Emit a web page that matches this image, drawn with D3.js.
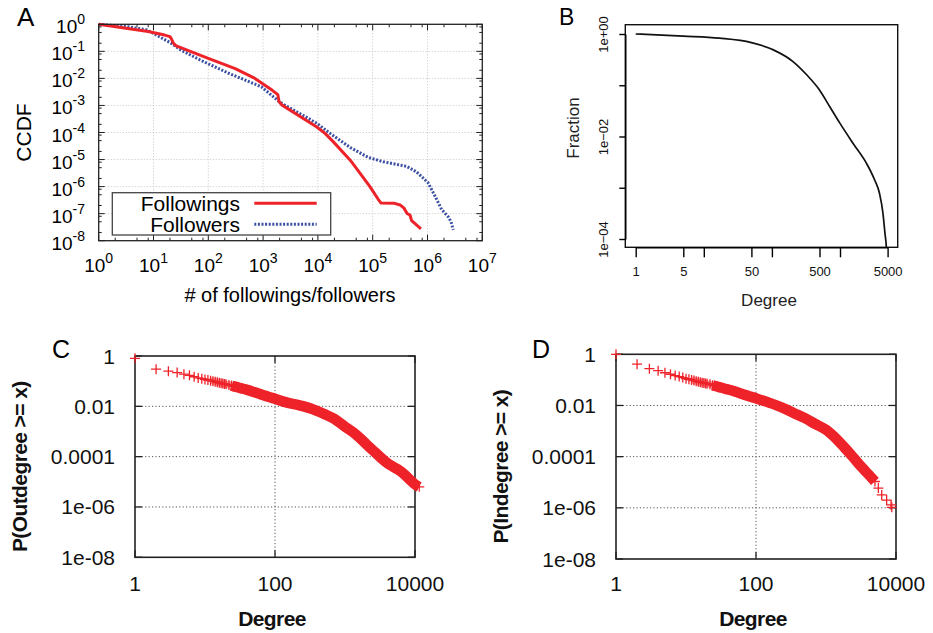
<!DOCTYPE html>
<html><head><meta charset="utf-8">
<script src="https://cdn.jsdelivr.net/npm/d3@7"></script>
<style>body{margin:0;background:#fff}svg{display:block}</style>
</head><body>
<svg id="c" width="933" height="633"></svg>
<script>
// ---------- Panel A data ----------
const followingsX = [1, 8, 16, 20, 21.4, 23, 26, 100, 310, 710, 1450, 1860, 1950, 2190, 9550, 13500, 19000, 38900, 59000, 89000, 126000, 141000, 251000, 316000, 372000, 427000, 479000, 513000, 759000];
const followingsY = [1, 0.54, 0.40, 0.35, 0.28, 0.20, 0.16, 0.055, 0.023, 0.010, 0.0037, 0.0025, 0.0014, 0.00105, 1.6e-4, 9.3e-5, 4.6e-5, 9.5e-6, 3.1e-6, 1.0e-6, 3.4e-7, 2.5e-7, 2.4e-7, 2.1e-7, 1.6e-7, 1.0e-7, 8.9e-8, 5.5e-8, 2.75e-8];
const followersX = [1, 3.5, 7.6, 21, 32, 71, 234, 930, 2040, 9550, 16600, 38900, 83000, 155000, 417000, 631000, 1020000, 1410000, 1820000, 2400000, 2690000, 2950000];
const followersY = [1, 0.81, 0.62, 0.20, 0.11, 0.048, 0.0155, 0.0049, 0.0013, 2.2e-4, 9.3e-5, 2.8e-5, 1.2e-5, 8.3e-6, 5.6e-6, 3.5e-6, 1.4e-6, 4.0e-7, 1.4e-7, 7.6e-8, 5.0e-8, 2.5e-8];
const seriesA = ["Followings", "Followers"];
const xTickExpA = [0, 1, 2, 3, 4, 5, 6, 7];
const yTickExpA = [0, -1, -2, -3, -4, -5, -6, -7, -8];

// ---------- Panel B data ----------
const degreeB = [1, 5, 17, 50, 105, 204, 324, 500, 708, 1000, 1550, 2450, 3240, 3800, 4270, 4570, 4790, 4840];
const fractionB = [1, 0.91, 0.83, 0.68, 0.49, 0.29, 0.16, 0.081, 0.038, 0.018, 0.0074, 0.0030, 0.0014, 7.8e-4, 3.2e-4, 1.3e-4, 6.9e-5, 3.2e-5];
const xTicksB = [1, 5, 10, 50, 100, 500, 1000, 5000];
const xTickLabelsB = ["1", "5", "", "50", "", "500", "", "5000"];
const yTicksB = [1, 0.1, 0.01, 0.001, 0.0001];
const yTickLabelsB = ["1e+00", "", "1e\u221202", "", "1e\u221204"];

// ---------- Panel C data ----------
const outDeg = [1,2,3,4,5,6,7,8,9,10,11,12,13,14,15,16,17,18,19,20,22,24,26,28,30,35,40,50,65,80,100,150,230,350,500,700,1000,1300,1700,2000,2500,3200,4000,5000,6000,7000,8500,10000,11500];
const outP = [0.81,0.30,0.25,0.22,0.19,0.17,0.15,0.135,0.125,0.117,0.111,0.105,0.100,0.095,0.090,0.086,0.083,0.080,0.077,0.075,0.071,0.067,0.062,0.059,0.056,0.050,0.045,0.037,0.029,0.024,0.020,0.014,0.0107,0.0076,0.0050,0.0032,0.00155,0.00095,0.00050,0.00032,0.00018,0.000095,0.000056,0.000038,0.000028,0.000020,0.000012,0.0000079,0.0000063];

// ---------- Panel D data ----------
const inDeg = [1,2,3,4,5,6,7,8,9,10,11,12,13,14,15,16,17,18,19,20,22,24,26,28,30,35,40,50,65,80,100,150,230,350,500,700,1000,1400,1800,2400,3200,4000,5000,5600,6250,7350,8500,8700];
const inP = [1.0,0.41,0.275,0.23,0.19,0.166,0.148,0.135,0.123,0.112,0.106,0.10,0.094,0.089,0.085,0.081,0.078,0.076,0.073,0.071,0.067,0.062,0.058,0.055,0.052,0.046,0.042,0.035,0.0275,0.023,0.019,0.0132,0.0085,0.0050,0.0032,0.0019,0.00112,0.00050,0.00024,0.00010,0.000040,0.000021,0.0000107,0.0000059,0.0000032,0.0000020,0.0000013,0.00000105];

const degTicksCD = [1, 100, 10000];
const degTickLabelsCD = ["1", "100", "10000"];
const pTicksCD = [1, 0.01, 0.0001, 1e-6, 1e-8];
const pTickLabelsCD = ["1", "0.01", "0.0001", "1e-06", "1e-08"];

const svg = d3.select("#c");
const SANS = "'Liberation Sans', Arial, Helvetica, sans-serif";
const RED = "#ee2229";
const BLUE = "#3b4fa3";

// ================= Panel A =================
(function(){
  const x = d3.scaleLog().domain([1, 1e7]).range([98.7, 482.3]);
  const y = d3.scaleLog().domain([1e-8, 1]).range([240.7, 24.3]);
  const g = svg.append("g");
  const [x0, x1] = x.range(), [y0, y1] = [y.range()[1], y.range()[0]];
  xTickExpA.slice(1, -1).forEach(e => {
    g.append("line").attr("x1", x(10**e)).attr("x2", x(10**e)).attr("y1", y0).attr("y2", y1)
      .attr("stroke", "#b5b5b5").attr("stroke-width", 0.8).attr("stroke-dasharray", "1,2");
  });
  yTickExpA.slice(1, -1).forEach(e => {
    g.append("line").attr("y1", y(10**e)).attr("y2", y(10**e)).attr("x1", x0).attr("x2", x1)
      .attr("stroke", "#b5b5b5").attr("stroke-width", 0.8).attr("stroke-dasharray", "1,2");
  });
  const tk = g.append("g").attr("stroke", "#222").attr("stroke-width", 1);
  xTickExpA.forEach(e => {
    [[10**e, 6]].concat(e < 7 ? [[2*10**e, 3], [5*10**e, 3], [8*10**e, 3]] : []).forEach(([v, L]) => {
      const xx = x(v);
      tk.append("line").attr("x1", xx).attr("x2", xx).attr("y1", y1).attr("y2", y1 - L);
      tk.append("line").attr("x1", xx).attr("x2", xx).attr("y1", y0).attr("y2", y0 + L);
    });
  });
  yTickExpA.forEach(e => {
    [[10**e, 6]].concat(e > -8 ? [[2*10**(e-1), 3], [5*10**(e-1), 3], [8*10**(e-1), 3]] : []).forEach(([v, L]) => {
      const yy = y(v);
      tk.append("line").attr("y1", yy).attr("y2", yy).attr("x1", x0).attr("x2", x0 + L);
      tk.append("line").attr("y1", yy).attr("y2", yy).attr("x1", x1).attr("x2", x1 - L);
    });
  });
  const line = d3.line().x(d => x(d[0])).y(d => y(d[1])).curve(d3.curveLinear);
  g.append("path").attr("d", line(followersX.map((v, i) => [v, followersY[i]])))
    .attr("fill", "none").attr("stroke", BLUE).attr("stroke-width", 3).attr("stroke-dasharray", "2,1.6");
  g.append("path").attr("d", line(followingsX.map((v, i) => [v, followingsY[i]])))
    .attr("fill", "none").attr("stroke", RED).attr("stroke-width", 3).attr("stroke-linejoin", "round");
  g.append("rect").attr("x", 112.3).attr("y", 192.7).attr("width", 218.4).attr("height", 42.3)
    .attr("fill", "#fff").attr("stroke", "#444").attr("stroke-width", 1.3);
  const legY = [203.3, 224.3];
  seriesA.forEach((s, i) => {
    g.append("text").attr("x", 240).attr("y", legY[i] + 7.5).attr("text-anchor", "end")
      .attr("font-family", SANS).attr("font-size", 21).text(s);
    g.append("line").attr("x1", 254.3).attr("x2", 316.7).attr("y1", legY[i]).attr("y2", legY[i])
      .attr("stroke", i ? BLUE : RED).attr("stroke-width", 3)
      .attr("stroke-dasharray", i ? "2,1.6" : null);
  });
  g.append("rect").attr("x", x0).attr("y", y0).attr("width", x1 - x0).attr("height", y1 - y0)
    .attr("fill", "none").attr("stroke", "#222").attr("stroke-width", 1.3);
  xTickExpA.forEach(e => {
    const t = g.append("text").attr("x", x(10**e)).attr("y", 271.5).attr("text-anchor", "middle")
      .attr("font-family", SANS).attr("font-size", 19);
    t.append("tspan").text("10");
    t.append("tspan").attr("dy", -9).attr("font-size", 14).text(String(e));
  });
  yTickExpA.forEach(e => {
    const t = g.append("text").attr("x", 85).attr("y", y(10**e) + 9).attr("text-anchor", "end")
      .attr("font-family", SANS).attr("font-size", 19);
    t.append("tspan").text("10");
    t.append("tspan").attr("dy", -9).attr("font-size", 14).text(e === 0 ? "0" : "-" + (-e));
  });
  g.append("text").attr("x", 290).attr("y", 302).attr("text-anchor", "middle")
    .attr("font-family", SANS).attr("font-size", 20).text("# of followings/followers");
  g.append("text").attr("transform", "translate(31,132.5) rotate(-90)").attr("text-anchor", "middle")
    .attr("font-family", SANS).attr("font-size", 21).text("CCDF");
  g.append("text").attr("x", 17).attr("y", 26).attr("font-family", SANS).attr("font-size", 26).text("A");
})();

// ================= Panel B =================
(function(){
  const x = d3.scaleLog().domain([1, 5000]).range([635.7, 887.6]);
  const y = d3.scaleLog().domain([1e-4, 1]).range([239, 34]);
  const g = svg.append("g");
  const bx0 = 625.3, bx1 = 897.7, by0 = 24.7, by1 = 247.3;
  const clip = svg.append("defs").append("clipPath").attr("id", "clipB");
  clip.append("rect").attr("x", bx0).attr("y", by0).attr("width", bx1 - bx0).attr("height", by1 - by0);
  g.append("path").attr("clip-path", "url(#clipB)")
    .attr("d", d3.line().x(d => x(d[0])).y(d => y(d[1])).curve(d3.curveMonotoneX)(degreeB.map((v, i) => [v, fractionB[i]])))
    .attr("fill", "none").attr("stroke", "#111").attr("stroke-width", 1.7);
  g.append("rect").attr("x", bx0).attr("y", by0).attr("width", bx1 - bx0).attr("height", by1 - by0)
    .attr("fill", "none").attr("stroke", "#111").attr("stroke-width", 1.4);
  const xa = d3.axisBottom(x).tickValues(xTicksB).tickSize(10).tickSizeOuter(0)
    .tickFormat((d, i) => xTickLabelsB[i]).tickPadding(9);
  const ga = g.append("g").attr("transform", `translate(0,${by1})`).call(xa);
  ga.select(".domain").attr("stroke-width", 1.4);
  ga.selectAll(".tick line").attr("stroke-width", 1.4);
  ga.selectAll("text").attr("font-family", SANS).attr("font-size", 13).attr("fill", "#111");
  const ya = d3.axisLeft(y).tickValues(yTicksB).tickSize(6).tickSizeOuter(0)
    .tickFormat((d, i) => yTickLabelsB[i]);
  const gy = g.append("g").attr("transform", `translate(${bx0},0)`).call(ya);
  gy.select(".domain").attr("stroke-width", 1.4);
  gy.selectAll(".tick line").attr("stroke-width", 1.4);
  gy.selectAll("text").attr("font-family", SANS).attr("font-size", 13).attr("fill", "#111")
    .attr("text-anchor", "middle").attr("x", null).attr("dy", null)
    .attr("transform", "translate(-22,0) rotate(-90)").attr("dy", "0.35em");
  g.append("text").attr("x", 769).attr("y", 306).attr("text-anchor", "middle")
    .attr("font-family", SANS).attr("font-size", 17).attr("fill", "#222").text("Degree");
  g.append("text").attr("transform", "translate(578.5,128) rotate(-90)").attr("text-anchor", "middle")
    .attr("font-family", SANS).attr("font-size", 17).attr("fill", "#222").text("Fraction");
  g.append("text").attr("x", 559).attr("y", 25).attr("font-family", SANS).attr("font-size", 23).text("B");
})();

// ================= Panels C & D =================
function degreePanel(o){
  const x = d3.scaleLog().domain([1, 10000]).range([o.bx0, o.bx1]);
  const y = d3.scaleLog().domain([1e-8, 1]).range([o.by1, o.by0]);
  const g = svg.append("g");
  degTicksCD.slice(1, -1).forEach(v => {
    g.append("line").attr("x1", x(v)).attr("x2", x(v)).attr("y1", o.by0).attr("y2", o.by1)
      .attr("stroke", "#555").attr("stroke-width", 1).attr("stroke-dasharray", "1.2,2.2");
  });
  pTicksCD.slice(1, -1).forEach(v => {
    g.append("line").attr("y1", y(v)).attr("y2", y(v)).attr("x1", o.bx0).attr("x2", o.bx1)
      .attr("stroke", "#555").attr("stroke-width", 1).attr("stroke-dasharray", "1.2,2.2");
  });
  const tk = g.append("g").attr("stroke", "#222").attr("stroke-width", 1.3);
  degTicksCD.forEach(v => {
    tk.append("line").attr("x1", x(v)).attr("x2", x(v)).attr("y1", o.by0).attr("y2", o.by0 + 7);
    tk.append("line").attr("x1", x(v)).attr("x2", x(v)).attr("y1", o.by1).attr("y2", o.by1 - 7);
  });
  pTicksCD.forEach(v => {
    tk.append("line").attr("y1", y(v)).attr("y2", y(v)).attr("x1", o.bx0).attr("x2", o.bx0 + 7);
    tk.append("line").attr("y1", y(v)).attr("y2", y(v)).attr("x1", o.bx1).attr("x2", o.bx1 - 7);
  });
  g.append("rect").attr("x", o.bx0).attr("y", o.by0).attr("width", o.bx1 - o.bx0).attr("height", o.by1 - o.by0)
    .attr("fill", "none").attr("stroke", "#222").attr("stroke-width", 1.6);
  const pts = o.deg.map((d, i) => [d, o.p[i]]);
  const band = pts.filter(d => d[0] >= o.bandFrom && d[0] <= o.bandTo);
  const lineGen = d3.line().x(d => x(d[0])).y(d => y(d[1])).curve(d3.curveMonotoneX);
  g.append("path").attr("d", lineGen(pts.filter(d => d[0] >= 12 && d[0] <= o.bandFrom + 10)))
    .attr("fill", "none").attr("stroke", RED).attr("stroke-opacity", 0.45).attr("stroke-width", 7);
  g.append("path").attr("d", lineGen(band))
    .attr("fill", "none").attr("stroke", RED).attr("stroke-width", 10.5).attr("stroke-linecap", "butt");
  const s = 5;
  g.append("g").selectAll("path").data(pts).join("path")
    .attr("d", d => { const cx = x(d[0]), cy = y(d[1]); return `M${cx - s},${cy}H${cx + s}M${cx},${cy - s}V${cy + s}`; })
    .attr("stroke", RED).attr("stroke-width", 1.3).attr("fill", "none");
  degTicksCD.forEach((v, i) => {
    g.append("text").attr("x", x(v)).attr("y", 590.5).attr("text-anchor", "middle")
      .attr("font-family", SANS).attr("font-size", 21).attr("fill", "#111").text(degTickLabelsCD[i]);
  });
  pTicksCD.forEach((v, i) => {
    g.append("text").attr("x", o.bx0 - 20).attr("y", y(v) + 7.5).attr("text-anchor", "end")
      .attr("font-family", SANS).attr("font-size", 21).attr("fill", "#111").text(pTickLabelsCD[i]);
  });
  g.append("text").attr("x", o.bx0 + 137).attr("y", 626).attr("text-anchor", "middle")
    .attr("font-family", SANS).attr("font-weight", "bold").attr("font-size", 21).attr("letter-spacing", -0.6)
    .attr("fill", "#111").text("Degree");
  g.append("text").attr("transform", `translate(${o.ylabX},466.7) rotate(-90)`).attr("text-anchor", "middle")
    .attr("font-family", SANS).attr("font-weight", "bold").attr("font-size", 21).attr("letter-spacing", -0.6)
    .attr("fill", "#111").text(o.ylab);
  g.append("text").attr("x", o.letterX).attr("y", 357.7).attr("font-family", SANS).attr("font-size", 25).text(o.letter);
}
degreePanel({bx0: 135, bx1: 415, by0: 356, by1: 557.3, deg: outDeg, p: outP, bandFrom: 24, bandTo: 20000,
  ylab: "P(Outdegree >= x)", ylabX: 26.5, letter: "C", letterX: 52});
degreePanel({bx0: 616, bx1: 896, by0: 354.3, by1: 559, deg: inDeg, p: inP, bandFrom: 24, bandTo: 5000,
  ylab: "P(Indegree >= x)", ylabX: 507.5, letter: "D", letterX: 532});
</script>
</body></html>
